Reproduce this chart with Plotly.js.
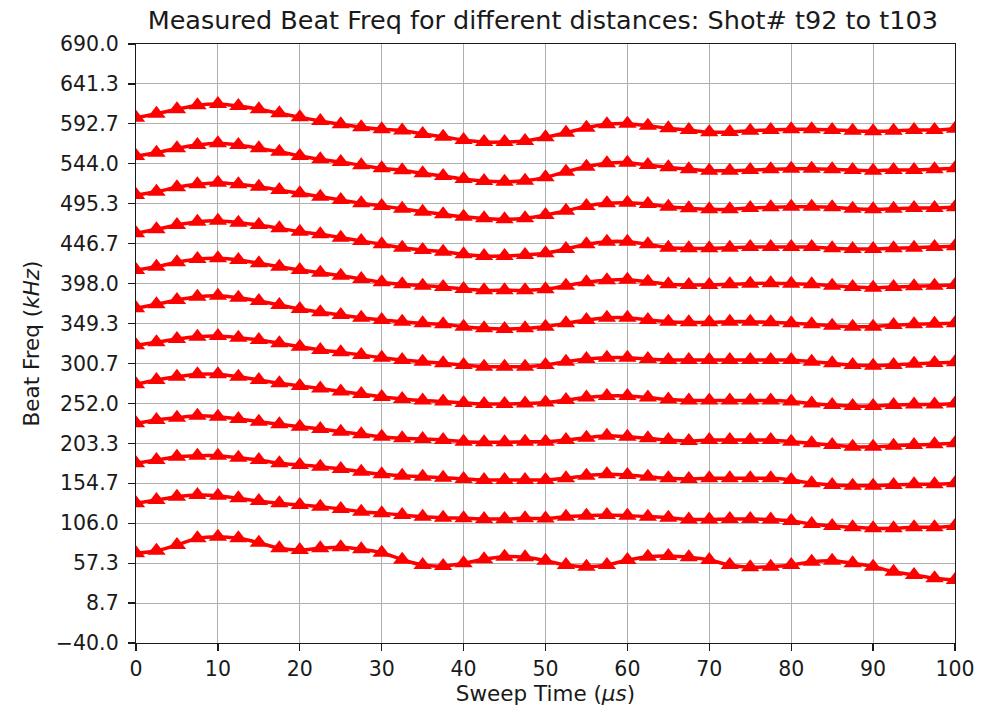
<!DOCTYPE html>
<html>
<head>
<meta charset="utf-8">
<script src="https://cdn.plot.ly/plotly-3.0.1.min.js"></script>
<style>
  html, body { margin: 0; padding: 0; background: #fff; }
  #chart { width: 995px; height: 711px; }
</style>
</head>
<body>
<div id="chart"></div>
<script>
// Sweep time (µs)
const sweepTime = [0, 2.5, 5, 7.5, 10, 12.5, 15, 17.5, 20, 22.5, 25, 27.5, 30, 32.5, 35, 37.5, 40,
  42.5, 45, 47.5, 50, 52.5, 55, 57.5, 60, 62.5, 65, 67.5, 70, 72.5, 75, 77.5, 80, 82.5, 85, 87.5,
  90, 92.5, 95, 97.5, 100];

// Beat frequency (kHz) per shot
const shotT103 = [600.2, 605.1, 610.4, 615.3, 616.9, 614.4, 610.4, 605.5, 600.7, 596.2, 592.1, 588.5,
  586.0, 584.6, 580.3, 577.0, 573.0, 570.6, 570.6, 571.8, 576.3, 581.9, 588.0, 592.1, 592.9, 590.4,
  587.3, 585.2, 582.4, 582.8, 584.3, 585.2, 586.0, 586.0, 585.2, 584.3, 583.6, 584.3, 585.2, 585.2, 586.8];
const shotT102 = [553.5, 557.5, 562.9, 566.9, 569.0, 566.9, 562.9, 558.7, 553.5, 549.5, 546.2, 542.2,
  538.5, 536.0, 532.4, 529.1, 525.5, 523.0, 522.2, 523.4, 527.5, 534.4, 540.5, 544.6, 545.3, 542.5,
  539.7, 537.3, 535.6, 535.6, 536.4, 537.3, 538.0, 538.0, 537.3, 536.4, 535.6, 536.4, 536.4, 537.3, 538.5];
const shotT101 = [506.0, 510.0, 515.4, 519.0, 521.0, 519.0, 516.1, 512.1, 508.0, 503.9, 499.9, 495.9,
  492.6, 489.2, 485.6, 482.5, 479.5, 477.6, 476.4, 477.6, 481.6, 486.8, 492.6, 495.9, 496.6, 495.0,
  491.7, 489.8, 488.5, 488.5, 490.1, 491.0, 491.7, 491.7, 491.0, 489.3, 488.5, 489.3, 490.1, 490.1, 491.0];
const shotT100 = [459.3, 464.2, 469.4, 473.4, 474.7, 472.2, 469.4, 465.4, 461.3, 458.1, 454.0, 450.0,
  445.9, 441.7, 439.0, 436.9, 433.7, 431.6, 431.6, 432.9, 434.9, 440.2, 445.9, 449.1, 449.1, 445.9,
  441.7, 441.0, 441.0, 441.7, 442.6, 442.6, 442.6, 442.6, 441.0, 440.2, 440.2, 441.0, 441.7, 442.6, 443.4];
const shotT99 = [414.6, 418.6, 424.0, 428.0, 428.8, 426.8, 422.7, 418.6, 414.6, 411.3, 407.6, 403.6,
  399.6, 397.2, 395.5, 393.9, 391.4, 389.8, 389.8, 389.8, 391.0, 395.5, 399.6, 402.0, 402.8, 400.3,
  397.2, 396.3, 396.3, 397.2, 397.9, 398.4, 397.9, 397.2, 395.5, 393.9, 393.0, 393.9, 394.7, 395.5, 396.3];
const shotT98 = [367.9, 372.8, 378.0, 382.0, 383.3, 380.8, 376.8, 371.9, 367.0, 363.0, 359.7, 356.4,
  353.6, 351.6, 349.6, 348.4, 345.5, 343.5, 342.7, 343.5, 345.5, 349.6, 353.6, 356.4, 356.4, 353.6,
  351.6, 350.8, 350.8, 351.6, 351.6, 350.8, 349.6, 348.4, 346.7, 345.5, 345.5, 347.5, 348.4, 349.1, 349.6];
const shotT97 = [322.8, 326.5, 330.5, 333.3, 334.1, 332.1, 329.3, 325.2, 321.1, 317.1, 314.3, 311.0,
  307.7, 304.9, 302.8, 300.9, 298.8, 296.7, 296.7, 296.7, 298.8, 302.8, 306.1, 307.7, 307.7, 306.1,
  304.9, 304.9, 304.9, 304.9, 304.9, 304.9, 304.9, 302.8, 300.9, 298.8, 298.0, 298.8, 300.4, 301.2, 302.1];
const shotT96 = [275.3, 280.5, 284.5, 287.5, 287.5, 284.5, 280.5, 276.5, 273.2, 270.2, 266.5, 263.5,
  259.8, 257.4, 255.5, 254.3, 252.5, 251.3, 251.3, 251.9, 253.1, 256.1, 259.2, 261.0, 261.0, 259.2,
  256.7, 255.5, 255.5, 255.5, 255.5, 255.5, 254.3, 251.9, 250.0, 248.8, 248.8, 250.0, 250.6, 250.6, 251.9];
const shotT95 = [227.7, 231.8, 234.6, 237.0, 235.8, 233.0, 229.7, 226.5, 223.6, 220.8, 217.5, 214.3,
  211.4, 209.5, 208.6, 207.4, 205.3, 204.6, 204.6, 205.3, 205.3, 207.4, 210.2, 212.6, 211.4, 209.5,
  207.4, 206.2, 207.4, 207.4, 207.4, 207.4, 205.3, 203.4, 201.3, 199.2, 199.2, 200.4, 201.3, 202.2, 203.4];
const shotT94 = [179.0, 183.0, 187.0, 188.3, 188.3, 185.8, 183.0, 179.0, 176.9, 174.9, 172.1, 168.8,
  165.6, 163.9, 162.7, 161.5, 159.9, 158.7, 158.7, 158.7, 158.7, 160.7, 163.9, 165.6, 164.7, 162.7,
  160.7, 159.9, 160.7, 160.7, 160.7, 160.7, 158.7, 154.6, 152.6, 151.7, 151.7, 152.6, 153.4, 153.4, 154.6];
const shotT93 = [130.3, 134.3, 138.3, 140.4, 139.5, 136.4, 133.0, 130.3, 128.2, 126.1, 123.4, 120.0,
  118.1, 116.0, 114.0, 112.7, 112.0, 111.1, 111.1, 112.0, 111.7, 114.0, 115.2, 116.0, 115.2, 114.0,
  112.7, 110.5, 110.5, 111.1, 111.1, 110.5, 108.7, 105.0, 102.6, 101.0, 99.8, 99.8, 101.0, 101.0, 102.6];
const shotT92 = [69.3, 72.5, 79.4, 87.6, 89.5, 87.6, 82.2, 75.4, 73.3, 75.4, 76.6, 74.2,
  70.0, 61.6, 55.0, 53.8, 57.1, 62.0, 65.2, 64.4, 60.3, 55.0, 53.0, 55.0, 61.1, 65.2,
  66.0, 64.4, 61.1, 55.0, 52.3, 53.0, 55.0, 59.1, 60.3, 57.1, 53.0, 46.9, 42.9, 38.8, 36.8];

const shotNames = ['t92', 't93', 't94', 't95', 't96', 't97', 't98', 't99', 't100', 't101', 't102', 't103'];
const shotSeries = [shotT92, shotT93, shotT94, shotT95, shotT96, shotT97, shotT98, shotT99,
  shotT100, shotT101, shotT102, shotT103];

// y axis ticks: -40 to 690 in 15 equal steps
const yMin = -40, yMax = 690, ySteps = 15;

const traces = shotSeries.map((ys, i) => ({
  x: sweepTime,
  y: ys,
  name: shotNames[i],
  type: 'scatter',
  mode: 'lines+markers',
  line: { color: '#ff0000', width: 3.5, shape: 'spline', smoothing: 0.8 },
  marker: { symbol: 'triangle-up', size: 16, color: '#ff0000' },
  showlegend: false,
  hoverinfo: 'x+y+name'
}));

const fontFam = 'DejaVu Sans, sans-serif';
const txtColor = '#1a1a1a';
const layout = {
  width: 995,
  height: 711,
  paper_bgcolor: '#ffffff',
  plot_bgcolor: '#ffffff',
  margin: { l: 136, r: 40, t: 44, b: 68 },
  font: { family: fontFam, size: 20, color: txtColor },
  title: {
    text: 'Measured Beat Freq for different distances: Shot# t92 to t103',
    font: { family: fontFam, size: 25.5, color: txtColor },
    x: 0.5455, xanchor: 'center', y: 0.972, yanchor: 'middle'
  },
  xaxis: {
    range: [0, 100],
    tick0: 0, dtick: 10,
    ticks: 'outside', ticklen: 7, tickwidth: 1.2, tickcolor: txtColor,
    showgrid: true, gridcolor: '#b0b0b0', gridwidth: 1,
    zeroline: false,
    showline: true, linecolor: txtColor, linewidth: 1.2, mirror: true,
    tickfont: { family: fontFam, size: 20.5, color: txtColor },
    title: { text: 'Sweep Time (<i>μs</i>)', font: { family: fontFam, size: 21.5, color: txtColor }, standoff: 6 }
  },
  yaxis: {
    range: [yMin, yMax],
    tick0: yMin, dtick: (yMax - yMin) / ySteps,
    tickformat: '.1f',
    ticks: 'outside', ticklen: 7, tickwidth: 1.2, tickcolor: txtColor,
    ticklabelstandoff: 5,
    showgrid: true, gridcolor: '#b0b0b0', gridwidth: 1,
    zeroline: false,
    showline: true, linecolor: txtColor, linewidth: 1.2, mirror: true,
    tickfont: { family: fontFam, size: 20.5, color: txtColor },
    title: { text: 'Beat Freq (<i>kHz</i>)', font: { family: fontFam, size: 21.5, color: txtColor }, standoff: 10 }
  }
};

Plotly.newPlot('chart', traces, layout, { displayModeBar: false, staticPlot: true });
</script>
</body>
</html>
